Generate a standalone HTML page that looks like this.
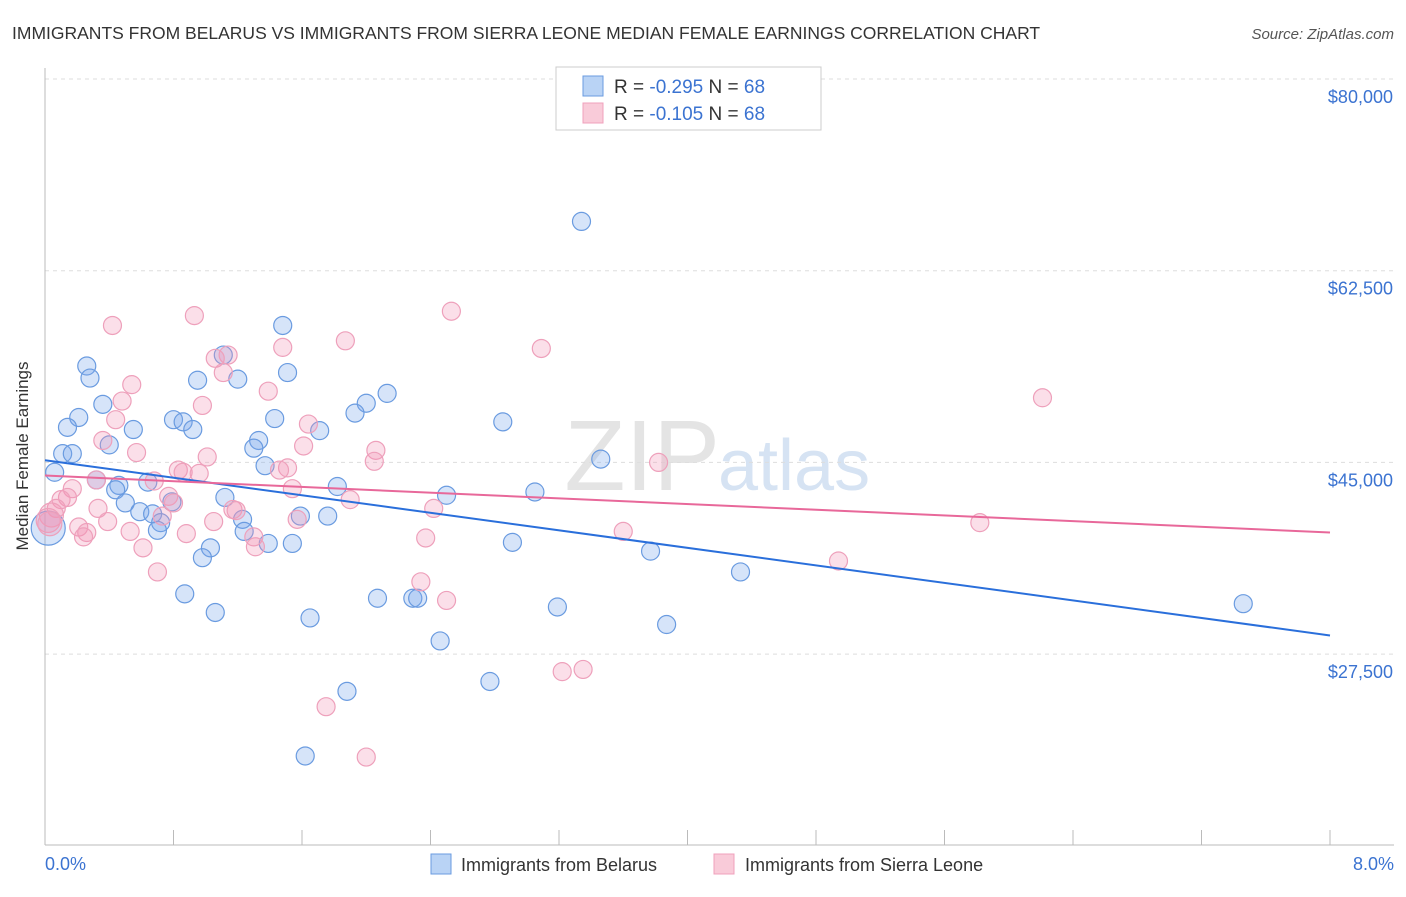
<!DOCTYPE html>
<html><head><meta charset="utf-8"><style>
body{margin:0;background:#fff;font-family:"Liberation Sans",sans-serif;}
svg text{font-family:"Liberation Sans",sans-serif;}
</style></head><body>
<svg id="c" width="1406" height="892" xmlns="http://www.w3.org/2000/svg">
<text x="12" y="39" font-size="17.5" fill="#333">IMMIGRANTS FROM BELARUS VS IMMIGRANTS FROM SIERRA LEONE MEDIAN FEMALE EARNINGS CORRELATION CHART</text>
<text x="1394" y="39" font-size="15" fill="#555" font-style="italic" text-anchor="end">Source: ZipAtlas.com</text>
<text x="720" y="490" font-size="100" fill="#e4e4e4" text-anchor="end" font-family="Liberation Serif">ZIP</text>
<text x="718" y="490" font-size="72" fill="#d6e3f3">atlas</text>
<g id="grid"></g>
<line x1="45" y1="68" x2="45" y2="845" stroke="#bbb"/>
<line x1="45" y1="845" x2="1394" y2="845" stroke="#bbb"/>
<g id="ticks"></g>
<g id="pts"></g>
<g id="lines"></g>
<text x="28" y="456" font-size="17" fill="#333" text-anchor="middle" transform="rotate(-90 28 456)">Median Female Earnings</text>
<text x="45" y="870" font-size="18" fill="#3b73d1">0.0%</text>
<text x="1394" y="870" font-size="18" fill="#3b73d1" text-anchor="end">8.0%</text>
<g>
<rect x="556" y="67" width="265" height="63" fill="#fff" stroke="#ccc"/>
<rect x="583" y="76" width="20" height="20" fill="#b9d3f5" stroke="#6a9be0"/>
<text x="614" y="93" font-size="19" fill="#333">R = <tspan fill="#3b73d1">-0.295</tspan>   N = <tspan fill="#3b73d1">68</tspan></text>
<rect x="583" y="103" width="20" height="20" fill="#f9cbd9" stroke="#f0a0bc"/>
<text x="614" y="120" font-size="19" fill="#333">R = <tspan fill="#3b73d1">-0.105</tspan>   N = <tspan fill="#3b73d1">68</tspan></text>
</g>
<g>
<rect x="431" y="854" width="20" height="20" fill="#b9d3f5" stroke="#6a9be0"/>
<text x="461" y="871" font-size="18" fill="#333">Immigrants from Belarus</text>
<rect x="714" y="854" width="20" height="20" fill="#f9cbd9" stroke="#f0a0bc"/>
<text x="745" y="871" font-size="18" fill="#333">Immigrants from Sierra Leone</text>
</g>
</svg>
<script>
const yTicks=[80000,62500,45000,27500];
const yTickLabels=["$80,000","$62,500","$45,000","$27,500"];
const xTicks=[0,0.8,1.6,2.4,3.2,4,4.8,5.6,6.4,7.2,8];
const belarusX=[3.34,1.48,0.26,0.28,1.51,0.95,1.20,1.11,2.13,2.00,1.93,0.36,0.21,0.14,0.80,0.86,0.92,0.55,0.40,1.43,1.71,1.33,1.30,2.85,3.46,1.37,0.11,0.17,0.06,0.32,0.46,0.44,0.64,0.79,0.50,0.59,0.67,0.72,0.70,1.12,1.23,1.24,1.82,1.59,1.76,2.50,3.05,1.03,0.98,1.39,1.54,2.91,3.77,4.33,0.87,1.06,1.65,2.07,2.29,2.32,3.19,3.87,2.46,7.46,1.88,2.77,1.62,0.02];
const belarusY=[67.0,57.5,53.8,52.7,53.2,52.5,52.6,54.8,51.3,50.4,49.5,50.3,49.1,48.2,48.9,48.7,48.0,48.0,46.6,49.0,47.9,47.0,46.3,48.7,45.3,44.7,45.8,45.8,44.1,43.4,42.9,42.5,43.2,41.4,41.3,40.5,40.3,39.5,38.8,41.8,39.8,38.7,42.8,40.1,40.1,42.0,42.3,37.2,36.3,37.6,37.6,37.7,36.9,35.0,33.0,31.3,30.8,32.6,32.6,32.6,31.8,30.2,28.7,32.1,24.1,25.0,18.2,39.0];
const sierraX=[0.42,0.93,2.53,1.87,3.09,1.48,1.14,1.06,1.11,0.54,1.39,0.48,0.98,0.44,0.36,0.57,1.64,1.61,2.06,2.05,1.01,1.51,0.83,0.86,0.96,1.46,3.82,6.21,0.32,0.68,1.54,0.17,0.14,0.10,0.77,0.80,1.17,1.19,0.07,0.04,0.33,0.73,0.02,0.03,0.21,0.39,1.05,1.57,1.90,2.42,5.82,0.26,0.24,0.53,0.88,1.30,1.31,0.61,2.37,3.60,4.94,0.70,2.34,2.50,3.22,3.35,1.75,2.00];
const sierraY=[57.5,58.4,58.8,56.1,55.4,55.5,54.8,54.5,53.2,52.1,51.5,50.6,50.2,48.9,47.0,45.9,48.5,46.5,46.1,45.1,45.5,44.5,44.3,44.1,44.0,44.3,45.0,50.9,43.4,43.3,42.6,42.6,41.8,41.6,41.9,41.3,40.7,40.6,40.8,40.2,40.8,40.1,39.7,39.4,39.1,39.6,39.6,39.8,41.6,40.8,39.5,38.6,38.2,38.7,38.5,38.2,37.3,37.2,38.1,38.7,36.0,35.0,34.1,32.4,25.9,26.1,22.7,18.1];
const belarusTrend=[45.2,29.2];
const sierraTrend=[43.8,38.6];
const NS="http://www.w3.org/2000/svg";
const X=v=>45+v/8*1285;
const Y=v=>79+(80000-v)/17500*191.7;
const Yk=v=>Y(v*1000);
function mk(tag,attrs,parent){const e=document.createElementNS(NS,tag);for(const k in attrs)e.setAttribute(k,attrs[k]);document.getElementById(parent).appendChild(e);return e;}
yTicks.forEach((t,i)=>{
  const l=mk('line',{x1:45,x2:1394,y1:Y(t),y2:Y(t),stroke:'#ddd','stroke-dasharray':'4 4'},'grid');
  
  
  const tx=mk('text',{x:1393,y:Y(t)+24,'font-size':18,fill:'#3b73d1','text-anchor':'end'},'grid');
  tx.textContent=yTickLabels[i];
  
  
});
xTicks.forEach(t=>{
  const l=mk('line',{x1:X(t),x2:X(t),y1:830,y2:845,stroke:'#bbb'},'ticks');
  
  
});
function pts(xs,ys,fill,stroke,name){
  xs.forEach((x,i)=>{
    const big=(x<0.05);
    const c=mk('circle',{cx:X(x),cy:Yk(ys[i]),r:big?(name==='belarus-point'?17:12):9,fill:fill,stroke:stroke,'stroke-width':1.2},'pts');
    
    
  });
}
pts(belarusX,belarusY,'rgba(120,165,235,0.3)','#6a9be0','belarus-point');
pts(sierraX,sierraY,'rgba(242,150,182,0.3)','#eea0bb','sierra-leone-point');
const bl=mk('line',{x1:X(0),y1:Yk(belarusTrend[0]),x2:X(8),y2:Yk(belarusTrend[1]),stroke:'#2a6fdb','stroke-width':2},'lines');


const sl=mk('line',{x1:X(0),y1:Yk(sierraTrend[0]),x2:X(8),y2:Yk(sierraTrend[1]),stroke:'#e8689a','stroke-width':2},'lines');


</script>
</body></html>
